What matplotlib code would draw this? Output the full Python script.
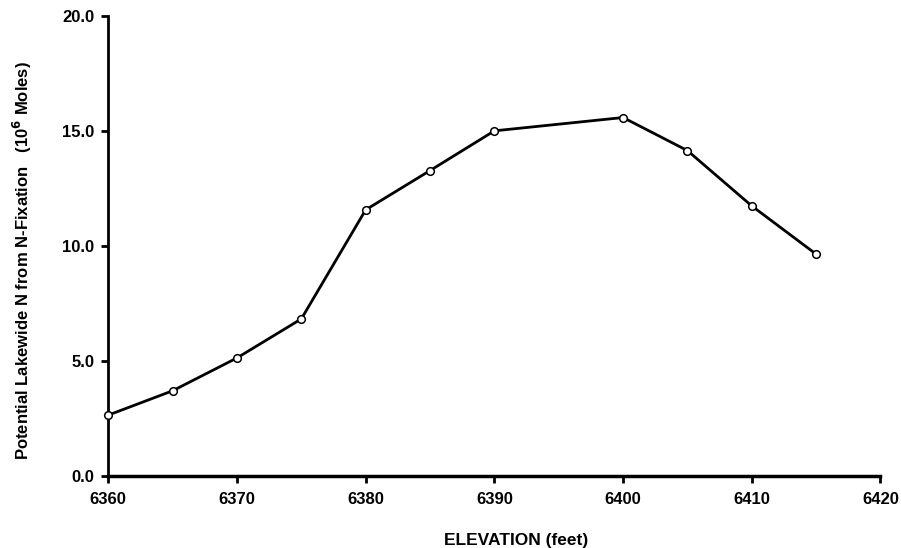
import matplotlib
matplotlib.use("Agg")
import matplotlib.pyplot as plt

# elevation (feet) and potential lakewide N (10^6 moles)
elevation = [6360, 6365, 6370, 6375, 6380, 6385, 6390, 6400, 6405, 6410, 6415]
n_fixation = [2.64, 3.70, 5.13, 6.83, 11.58, 13.29, 15.02, 15.60, 14.16, 11.75, 9.65]

xticks = [6360, 6370, 6380, 6390, 6400, 6410, 6420]
yticks = [0.0, 5.0, 10.0, 15.0, 20.0]

plt.rcParams['font.family'] = ['Liberation Sans', 'DejaVu Sans']
plt.rcParams['font.weight'] = 'bold'

fig = plt.figure(figsize=(9.01, 5.48), dpi=100)
ax = fig.add_axes([0.1202, 0.1319, 0.8570, 0.8380])

ax.plot(elevation, n_fixation, color='black', lw=2, marker='o', ms=5.5,
        mfc='white', mec='black', mew=1.1, clip_on=False, zorder=3)

ax.set_xlim(6360, 6420)
ax.set_ylim(0, 20)
ax.set_xticks(xticks)
ax.set_yticks(yticks)
ax.set_xticklabels([str(t) for t in xticks])
ax.set_yticklabels(['%.1f' % t for t in yticks])

for s in ['top', 'right']:
    ax.spines[s].set_visible(False)
ax.spines['left'].set_linewidth(2)
ax.spines['bottom'].set_linewidth(2.5)
ax.tick_params(direction='out', length=5, width=2, labelsize=12)
ax.tick_params(axis='x', pad=7)
ax.tick_params(axis='y', pad=5)
for lab in ax.get_xticklabels() + ax.get_yticklabels():
    lab.set_fontweight('bold')

ax.set_xlabel('ELEVATION (feet)', fontsize=12.5, fontweight='bold')
ax.xaxis.set_label_coords(0.528, -0.125)
ax.set_ylabel('Potential Lakewide N from N-Fixation   (10$^{\\mathbf{6}}$ Moles)',
              fontsize=12, fontweight='bold')
ax.yaxis.set_label_coords(-0.096, 0.4675)

fig.savefig('out.png', dpi=100)
